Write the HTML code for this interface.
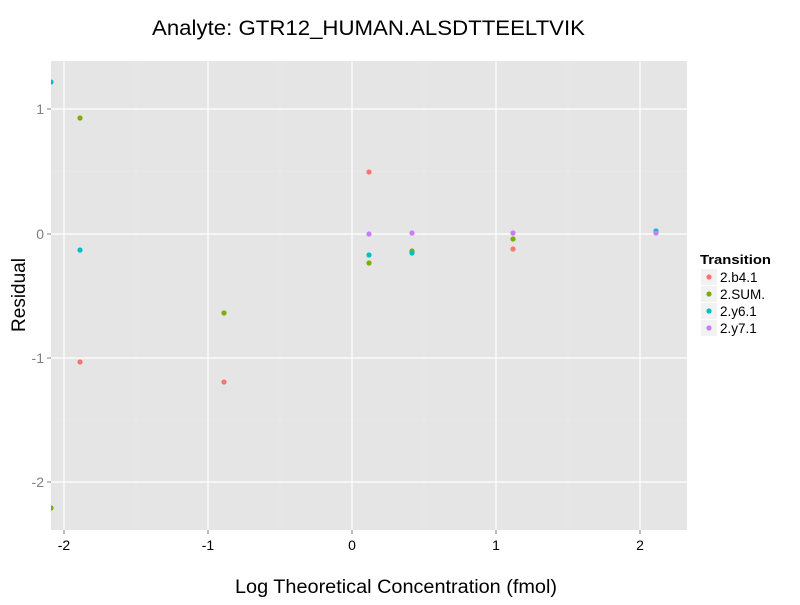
<!DOCTYPE html>
<html><head><style>body{margin:0;background:#fff}</style></head><body>
<svg width="800" height="600" xmlns="http://www.w3.org/2000/svg" font-family="Liberation Sans, Arial, sans-serif">
<rect width="800" height="600" fill="#fff"/>
<defs><clipPath id="c"><rect x="51" y="61" width="636" height="469"/></clipPath></defs>
<rect x="51" y="61" width="636" height="469" fill="#e5e5e5"/>
<g stroke="#ebebeb" stroke-width="0.6">
<line x1="136" x2="136" y1="61" y2="530"/><line x1="280" x2="280" y1="61" y2="530"/><line x1="424" x2="424" y1="61" y2="530"/><line x1="568" x2="568" y1="61" y2="530"/>
<line x1="51" x2="687" y1="171.5" y2="171.5"/><line x1="51" x2="687" y1="296" y2="296"/><line x1="51" x2="687" y1="420" y2="420"/>
</g>
<g stroke="#fff" stroke-width="1.2">
<line x1="64" x2="64" y1="61" y2="530"/><line x1="208" x2="208" y1="61" y2="530"/><line x1="352" x2="352" y1="61" y2="530"/><line x1="496" x2="496" y1="61" y2="530"/><line x1="640" x2="640" y1="61" y2="530"/>
<line x1="51" x2="687" y1="109" y2="109"/><line x1="51" x2="687" y1="234" y2="234"/><line x1="51" x2="687" y1="358" y2="358"/><line x1="51" x2="687" y1="482" y2="482"/>
</g>
<g clip-path="url(#c)">
<circle cx="51" cy="82" r="2.6" fill="#00BFC4"/>
<circle cx="80" cy="118" r="2.6" fill="#7CAE00"/>
<circle cx="80" cy="250" r="2.6" fill="#00BFC4"/>
<circle cx="80" cy="362" r="2.6" fill="#F8766D"/>
<circle cx="51" cy="508" r="2.6" fill="#7CAE00"/>
<circle cx="224" cy="313" r="2.6" fill="#7CAE00"/>
<circle cx="224" cy="382" r="2.6" fill="#F8766D"/>
<circle cx="369" cy="172" r="2.6" fill="#F8766D"/>
<circle cx="369" cy="234" r="2.6" fill="#C77CFF"/>
<circle cx="369" cy="255" r="2.6" fill="#00BFC4"/>
<circle cx="369" cy="263" r="2.6" fill="#7CAE00"/>
<circle cx="412" cy="251" r="2.6" fill="#7CAE00"/>
<circle cx="412" cy="253" r="2.6" fill="#00BFC4"/>
<circle cx="412" cy="233" r="2.6" fill="#C77CFF"/>
<circle cx="513" cy="249" r="2.6" fill="#F8766D"/>
<circle cx="513" cy="239" r="2.6" fill="#7CAE00"/>
<circle cx="513" cy="233" r="2.6" fill="#C77CFF"/>
<circle cx="656" cy="231" r="2.6" fill="#00BFC4"/>
<circle cx="656" cy="233" r="2.6" fill="#C77CFF"/>
</g>
<g stroke="#7f7f7f" stroke-width="1">
<line x1="47" x2="51" y1="109" y2="109"/><line x1="47" x2="51" y1="234" y2="234"/><line x1="47" x2="51" y1="358" y2="358"/><line x1="47" x2="51" y1="482" y2="482"/>
<line x1="64" x2="64" y1="530" y2="534"/><line x1="208" x2="208" y1="530" y2="534"/><line x1="352" x2="352" y1="530" y2="534"/><line x1="496" x2="496" y1="530" y2="534"/><line x1="640" x2="640" y1="530" y2="534"/>
</g>
<g font-size="14" fill="#7f7f7f" text-anchor="end">
<text x="44" y="114">1</text><text x="44" y="239">0</text><text x="44" y="363">-1</text><text x="44" y="487">-2</text>
</g>
<g font-size="14" fill="#000" text-anchor="middle">
<text x="64" y="550">-2</text><text x="208" y="550">-1</text><text x="352" y="550">0</text><text x="496" y="550">1</text><text x="640" y="550">2</text>
</g>
<text x="152" y="35" font-size="21" textLength="433" lengthAdjust="spacingAndGlyphs">Analyte: GTR12_HUMAN.ALSDTTEELTVIK</text>
<text x="235" y="593" font-size="19" textLength="322" lengthAdjust="spacingAndGlyphs">Log Theoretical Concentration (fmol)</text>
<text transform="translate(25,295) rotate(-90)" font-size="19" text-anchor="middle">Residual</text>
<text x="700" y="264" font-size="13" font-weight="bold" textLength="71" lengthAdjust="spacingAndGlyphs">Transition</text>
<g fill="#f2f2f2"><rect x="701" y="269" width="16" height="16"/><rect x="701" y="286" width="16" height="16"/><rect x="701" y="303" width="16" height="16"/><rect x="701" y="320" width="16" height="16"/></g>
<circle cx="709" cy="277" r="2.6" fill="#F8766D"/><circle cx="709" cy="294" r="2.6" fill="#7CAE00"/><circle cx="709" cy="311" r="2.6" fill="#00BFC4"/><circle cx="709" cy="328" r="2.6" fill="#C77CFF"/>
<g font-size="13.5" fill="#000"><text x="720" y="282">2.b4.1</text><text x="720" y="299">2.SUM.</text><text x="720" y="316">2.y6.1</text><text x="720" y="333">2.y7.1</text></g>
</svg>
</body></html>
